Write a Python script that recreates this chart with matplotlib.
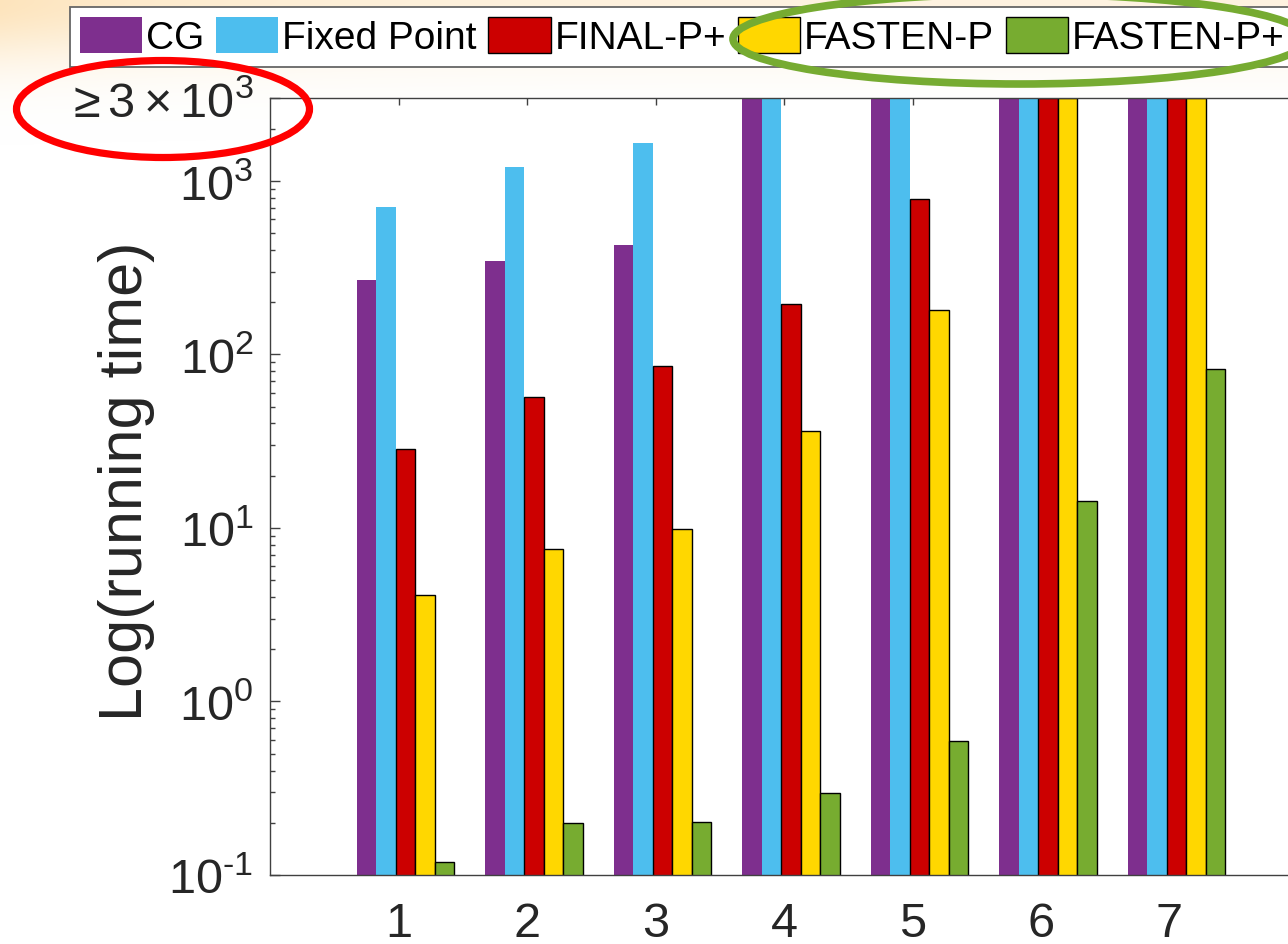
import numpy as np
import matplotlib
matplotlib.use('Agg')
import matplotlib.pyplot as plt
from matplotlib.patches import Ellipse

# ---------------- data ----------------
groups = [1, 2, 3, 4, 5, 6, 7]
series_names = ['CG', 'Fixed Point', 'FINAL-P+', 'FASTEN-P', 'FASTEN-P+']
cg = [267, 343, 424, 3000, 3000, 3000, 3000]
fixed_point = [711, 1203, 1648, 3000, 3000, 3000, 3000]
final_p_plus = [28.4, 56.7, 85.9, 194, 783, 3000, 3000]
fasten_p = [4.10, 7.55, 9.85, 36.1, 180, 3000, 3000]
fasten_p_plus = [0.118, 0.199, 0.2, 0.296, 0.589, 14.3, 82.2]
ytick_values = [0.1, 1, 10, 100, 1000, 3000]
ytick_labels = ['$10^{\u2010' + '1}$', r'$10^{0}$', r'$10^{1}$', r'$10^{2}$', r'$10^{3}$',
                r'$\geq3\times10^{3}$']
xtick_labels = ['1', '2', '3', '4', '5', '6', '7']

series = [cg, fixed_point, final_p_plus, fasten_p, fasten_p_plus]
colors = ['#7E2F8E', '#4DBEEE', '#CC0000', '#FFD700', '#77AC30']
edged = [False, False, True, True, True]

# ---------------- style ----------------
plt.rcParams['font.family'] = ['Liberation Sans', 'DejaVu Sans']
plt.rcParams['mathtext.fontset'] = 'custom'
plt.rcParams['mathtext.rm'] = 'Liberation Sans'
plt.rcParams['mathtext.it'] = 'Liberation Sans:italic'
plt.rcParams['mathtext.bf'] = 'Liberation Sans:bold'

W, H = 1288, 945
fig = plt.figure(figsize=(W / 100, H / 100), dpi=100)
fig.patch.set_facecolor('white')

# background gradient (slide background in the top-left corner)
yy, xx = np.mgrid[0:H, 0:W]
alpha = np.exp(-(yy / 62.0) ** 2) * (0.45 + 0.55 * np.exp(-xx / 250.0))
rgba = np.zeros((H, W, 4))
rgba[..., 0] = 253 / 255
rgba[..., 1] = 228 / 255
rgba[..., 2] = 188 / 255
rgba[..., 3] = alpha
bg = fig.add_axes([0, 0, 1, 1], zorder=-10)
bg.imshow(rgba, extent=(0, W, H, 0), aspect='auto', interpolation='bilinear')
bg.set_xlim(0, W)
bg.set_ylim(H, 0)
bg.axis('off')

# main axes (right part runs past the edge of the picture)
ax_left, ax_bottom, ax_w, ax_h = 270, 876, 1028, 777
ax = fig.add_axes([ax_left / W, (H - ax_bottom) / H, ax_w / W, ax_h / H], zorder=1)
ax.set_facecolor('white')

x = np.array(groups, dtype=float)
bw = 0.1516
shift = 0.054
handles = []
for i, (vals, col, e) in enumerate(zip(series, colors, edged)):
    b = ax.bar(x + shift + (i - 2) * bw, vals, width=bw, bottom=1e-3,
               color=col, edgecolor='black' if e else col,
               linewidth=1.0 if e else 0.0, label=series_names[i], zorder=2)
    handles.append(b)

ax.set_yscale('log')
ax.set_ylim(0.1, 3000)
ax.set_xlim(0, 8)
ax.set_yticks(ytick_values)
ax.set_yticklabels(ytick_labels)
ax.set_xticks(groups)
ax.set_xticklabels(xtick_labels)
ax.xaxis.set_minor_locator(matplotlib.ticker.NullLocator())

tick_col = '#262626'
for s in ax.spines.values():
    s.set_color('#404040')
    s.set_linewidth(1.0)
ax.tick_params(axis='both', which='both', direction='in', top=True, right=True,
               colors='#404040', labelcolor=tick_col, labelsize=35, width=1.0)
ax.tick_params(axis='y', which='major', length=7.5, pad=12)
ax.tick_params(axis='y', which='minor', length=3.8)
ax.tick_params(axis='x', which='major', length=5, pad=19)

ax.set_ylabel('Log(running time)', fontsize=44, color=tick_col)
ax.yaxis.set_label_coords(-0.112, 0.508)

# legend
leg = fig.legend(handles, series_names, loc='upper left',
                 bbox_to_anchor=(70 / W, 1 - 8 / H), ncol=5, fontsize=28,
                 frameon=True, fancybox=False, edgecolor='#666666', framealpha=1,
                 borderpad=0.26, handlelength=1.6, handleheight=1.05,
                 handletextpad=0.1, columnspacing=0.3, borderaxespad=0)
leg.get_frame().set_linewidth(1.3)
leg.set_zorder(5)

# annotation overlay (ellipses drawn on the slide)
ov = fig.add_axes([0, 0, 1, 1], zorder=10)
ov.set_xlim(0, W)
ov.set_ylim(H, 0)
ov.axis('off')
ov.patch.set_alpha(0)
ov.add_patch(Ellipse((163, 110), 293, 97, fill=False, edgecolor='#FF0000', linewidth=5.2))
ov.add_patch(Ellipse((1020, 40), 574, 90, fill=False, edgecolor='#76AB31', linewidth=5.5))

fig.savefig('out.png', dpi=100)
